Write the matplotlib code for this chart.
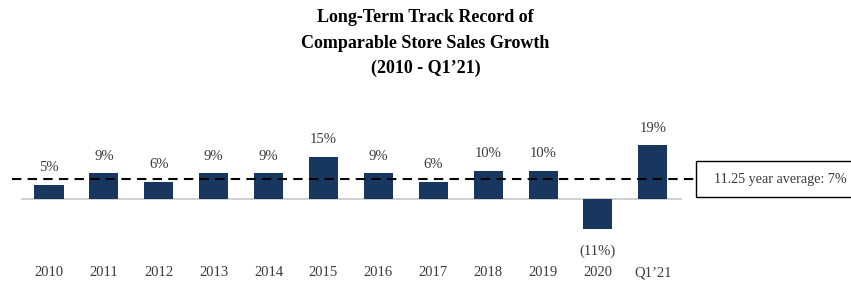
import matplotlib
matplotlib.use("Agg")
from matplotlib import pyplot as plt
from matplotlib.patches import Rectangle

# data
categories = ["2010", "2011", "2012", "2013", "2014", "2015",
              "2016", "2017", "2018", "2019", "2020", "Q1\u201921"]
growth = [5, 9, 6, 9, 9, 15, 9, 6, 10, 10, -11, 19]
average = 7
average_label = "11.25 year average: 7%"
title_lines = ["Long-Term Track Record of",
               "Comparable Store Sales Growth",
               "(2010 - Q1\u201921)"]

bar_color = "#17375e"
text_color = "#3a3a3a"
plt.rcParams["font.family"] = ["Liberation Serif", "DejaVu Serif"]

fig = plt.figure(figsize=(8.51, 2.84), dpi=100)
ax = fig.add_axes([0, 0, 1, 1])
ax.set_xlim(-0.893, 14.61)
ax.set_ylim(-30.5, 71)
ax.axis("off")

x = list(range(len(categories)))
ax.bar(x, growth, width=0.53, color=bar_color, zorder=2)

# zero line and average line
ax.plot([-0.49, 11.51], [0, 0], color="#c8c8c8", lw=1.2, zorder=1)
ax.plot([-0.674, 11.75], [average, average], color="black", lw=1.5,
        dashes=(4.5, 3), zorder=3)

# average box (runs off the right edge like the original)
ax.add_patch(Rectangle((11.79, average - 6.4), 4, 12.8, fill=False,
                       edgecolor="black", lw=1.0, clip_on=False))
ax.text(12.12, average, average_label, ha="left", va="center",
        fontsize=10.2, color=text_color)

for xi, v, lab in zip(x, growth, categories):
    if v >= 0:
        ax.annotate(f"{v}%", (xi, v), xytext=(0, 12.5),
                    textcoords="offset points", ha="center", va="center",
                    fontsize=10.5, color=text_color)
    else:
        ax.annotate(f"({abs(v)}%)", (xi, v), xytext=(0, -15.5),
                    textcoords="offset points", ha="center", va="center",
                    fontsize=10.5, color=text_color)
    ax.text(xi, -26.5, lab, ha="center", va="center", fontsize=10.5,
            color=text_color)

for i, line in enumerate(title_lines):
    fig.text(0.5, 1 - (18 + 25 * i) / 284, line, ha="center", va="center",
             fontsize=13, fontweight="bold", color="black")

fig.savefig("out.png", dpi=100)
